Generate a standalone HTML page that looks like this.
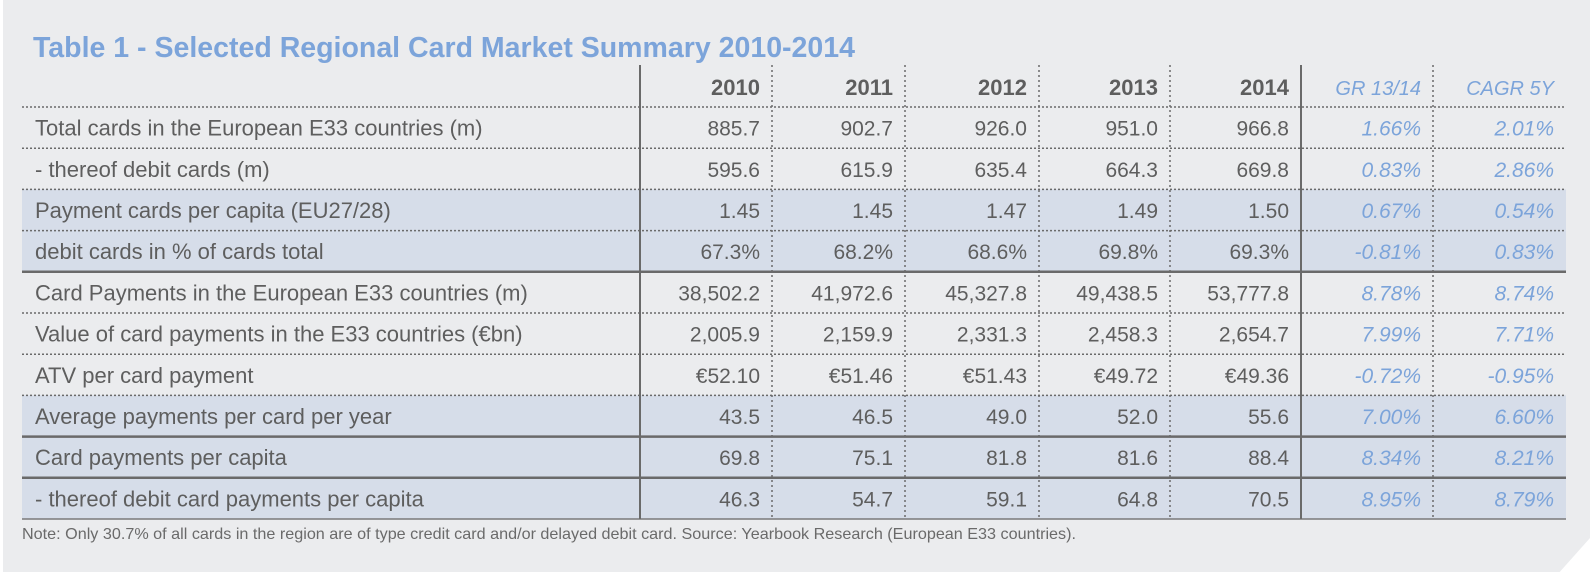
<!DOCTYPE html>
<html><head><meta charset="utf-8"><style>
html,body{margin:0;padding:0;background:#fff;}
svg{display:block;font-family:"Liberation Sans",sans-serif;}
</style></head><body>
<svg id="chart" width="1590" height="575" viewBox="0 0 1590 575" xmlns="http://www.w3.org/2000/svg">
<rect x="3" y="0" width="1587" height="572" fill="#ebecee"/>
<polygon points="1557,575 1590,538 1590,575" fill="#ffffff"/>
<text x="33" y="57" font-size="29" font-weight="bold" fill="#7ca4da" textLength="822" lengthAdjust="spacingAndGlyphs">Table 1 - Selected Regional Card Market Summary 2010-2014</text>
<g id="rows"></g>
<g id="lines"></g>
<text x="22" y="539" font-size="16" fill="#6a6a6a" textLength="1054" lengthAdjust="spacingAndGlyphs">Note: Only 30.7% of all cards in the region are of type credit card and/or delayed debit card. Source: Yearbook Research (European E33 countries).</text>
</svg>
<script>
const headers = ["2010","2011","2012","2013","2014","GR 13/14","CAGR 5Y"];
const labels = ["Total cards in the European E33 countries (m)"," - thereof debit cards (m)","Payment cards per capita (EU27/28)","debit cards in % of cards total","Card Payments in the European E33 countries (m)","Value of card payments in the E33 countries (€bn)","ATV per card payment","Average payments per card per year","Card payments per capita"," - thereof debit card payments per capita"];
const values = [
["885.7","902.7","926.0","951.0","966.8","1.66%","2.01%"],
["595.6","615.9","635.4","664.3","669.8","0.83%","2.86%"],
["1.45","1.45","1.47","1.49","1.50","0.67%","0.54%"],
["67.3%","68.2%","68.6%","69.8%","69.3%","-0.81%","0.83%"],
["38,502.2","41,972.6","45,327.8","49,438.5","53,777.8","8.78%","8.74%"],
["2,005.9","2,159.9","2,331.3","2,458.3","2,654.7","7.99%","7.71%"],
["€52.10","€51.46","€51.43","€49.72","€49.36","-0.72%","-0.95%"],
["43.5","46.5","49.0","52.0","55.6","7.00%","6.60%"],
["69.8","75.1","81.8","81.6","88.4","8.34%","8.21%"],
["46.3","54.7","59.1","64.8","70.5","8.95%","8.79%"]
];
const shaded = [2,3,7,8,9];
const solidAfter = [3,7,8];

const NS="http://www.w3.org/2000/svg";
const cols=[640,772,905,1039,1170,1301,1433,1566];
const L=22, R=1566, topY=65, hy=107, rh=41.2;
const rowsG=document.getElementById('rows'), linesG=document.getElementById('lines');
function mk(tag,attrs,parent){const e=document.createElementNS(NS,tag);for(const k in attrs)e.setAttribute(k,attrs[k]);parent.appendChild(e);return e;}
shaded.forEach(i=>{
  const r=mk('rect',{x:L,y:hy+rh*i,width:R-L,height:rh,fill:'#d6dde9'},rowsG);
  
  
});
headers.forEach((h,j)=>{
  const blue=j>=5;
  const t=mk('text',{x:cols[j+1]-12,y:hy-12,'text-anchor':'end','font-size':blue?20:22,'font-weight':blue?'normal':'bold','font-style':blue?'italic':'normal',fill:blue?'#7ca4da':'#5e5e5e'},rowsG);
  t.textContent=h;
  
  
});
labels.forEach((lab,i)=>{
  const cy=hy+rh*i+rh/2+8;
  const t=mk('text',{x:35,y:cy,'font-size':22,fill:'#5e5e5e'},rowsG);
  t.textContent=lab;
  
  
  values[i].forEach((v,j)=>{
    const blue=j>=5;
    const c=mk('text',{x:cols[j+1]-12,y:cy,'text-anchor':'end','font-size':21,'font-style':blue?'italic':'normal',fill:blue?'#7ca4da':'#5e5e5e'},rowsG);
    c.textContent=v;
    
    
  });
});
const hl=mk('line',{x1:L,x2:R,y1:hy,y2:hy,stroke:'#6a6a6a','stroke-width':1.5,'stroke-dasharray':'2 2'},linesG);


for(let i=0;i<labels.length;i++){
  const y=hy+rh*(i+1);
  let attrs;
  if(i===labels.length-1) attrs={stroke:'#7a7a7a','stroke-width':1.5};
  else if(solidAfter.includes(i)) attrs={stroke:'#6a6a6a','stroke-width':2.5};
  else attrs={stroke:'#6a6a6a','stroke-width':1.5,'stroke-dasharray':'2 2'};
  const l=mk('line',Object.assign({x1:L,x2:R,y1:y,y2:y},attrs),linesG);
  
  
}
const bottomY=hy+rh*labels.length;
cols.slice(0,7).forEach((x,k)=>{
  const solid=(k===0||k===5);
  const attrs=solid?{stroke:'#6a6a6a','stroke-width':2}:{stroke:'#6a6a6a','stroke-width':1.5,'stroke-dasharray':'2 3'};
  const l=mk('line',Object.assign({x1:x,x2:x,y1:topY,y2:bottomY},attrs),linesG);
  
  
});
</script>
</body></html>
